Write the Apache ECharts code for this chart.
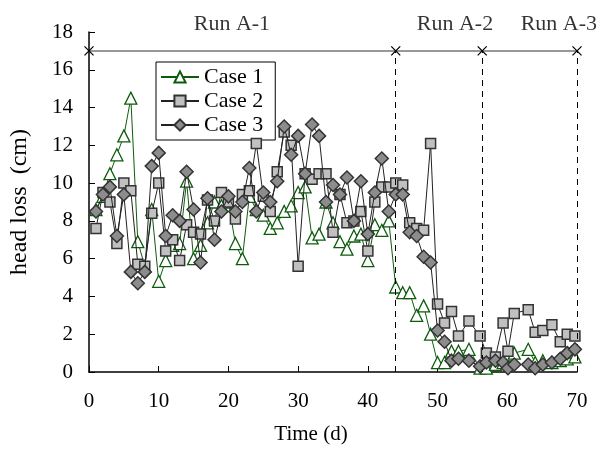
<!DOCTYPE html>
<html>
<head>
<meta charset="utf-8">
<script src="https://cdn.jsdelivr.net/npm/echarts@6/dist/echarts.min.js"></script>
<style>html,body{margin:0;padding:0;background:#fff}#c{width:601px;height:450px}</style>
</head>
<body>
<div id="c"></div>
<script>
// Time (d) of each measurement
const days = [1,2,3,4,5,6,7,8,9,10,11,12,13,14,15,16,17,18,19,20,21,22,23,24,25,26,27,28,29,30,
  31,32,33,34,35,36,37,38,39,40,41,42,43,44,45,46,47,48,49,
  50,51,52,53,54.5,56.1,57,58.3,59.4,60.1,61,63,64,65.1,66.4,67.6,68.6,69.7];
// head loss (cm)
const case1 = [8.6,9.3,10.5,11.5,12.5,14.5,6.9,5.6,8.6,4.8,5.9,6.7,6.8,10.1,6.0,6.7,7.9,9.0,8.8,9.0,
  6.8,6.0,9.3,8.6,8.3,7.6,7.9,8.5,8.8,9.5,9.8,7.1,7.3,9.0,7.9,6.9,6.5,7.2,7.3,5.9,
  7.8,7.5,8.0,4.5,4.2,4.2,3.0,3.5,2.0,
  0.5,0.5,1.1,1.1,1.2,0.2,0.2,0.4,0.5,0.9,1.0,1.2,0.5,0.6,0.5,0.6,0.7,0.8];
const case2 = [7.6,9.5,9.0,6.8,10.0,9.6,5.7,5.6,8.4,10.0,6.4,7.0,5.9,7.8,7.4,7.3,9.1,8.0,9.5,9.0,
  8.1,9.4,9.6,12.1,9.3,8.5,10.6,12.7,12.0,5.6,10.5,10.2,10.5,10.5,7.4,9.4,7.9,8.0,8.5,6.4,
  9.0,9.8,9.8,10.0,9.9,7.9,7.6,7.5,12.1,
  3.6,2.6,3.2,1.9,2.7,1.9,1.0,0.8,2.6,1.1,3.1,3.3,2.1,2.2,2.5,1.6,2.0,1.9];
const case3 = [8.5,9.4,9.8,7.2,9.4,5.3,4.7,5.3,10.9,11.6,7.2,8.3,8.0,10.6,8.6,5.8,9.2,7.0,8.5,9.3,
  8.5,9.0,10.8,8.5,9.5,9.0,10.1,13.0,11.5,12.5,10.5,13.1,12.5,9.0,9.9,9.4,10.3,8.0,10.1,7.3,
  9.5,11.3,8.5,9.4,9.4,7.4,7.2,6.1,5.8,
  2.2,1.6,0.6,0.7,0.6,0.3,0.5,0.6,0.5,0.2,0.4,0.4,0.2,0.4,0.5,0.7,1.0,1.2];
const seriesNames = ['Case 1','Case 2','Case 3'];
// run boundaries (d) and level of the run bar (cm)
const runBounds = [0, 44, 56.4, 70];
const runLevel = 17;
const runNames = ['Run A-1','Run A-2','Run A-3'];
const runLabelDays = [20.5, 52.5, 67.4];
const runLabelLevel = 18.4;
const xTicks = [0,10,20,30,40,50,60,70];
const yTicks = [0,2,4,6,8,10,12,14,16,18];

const FONT = '"Liberation Serif", "Times New Roman", serif';
const chart = echarts.init(document.getElementById('c'), null, {renderer:'canvas'});

function pairs(vals){ return days.map((d,i)=>[d, vals[i]]); }

chart.setOption({
  animation: false,
  backgroundColor: '#fff',
  textStyle: {fontFamily: FONT, color: '#000'},
  grid: {left: 89, right: 24, top: 32, bottom: 76},
  legend: {
    data: seriesNames,
    orient: 'vertical',
    left: 156, top: 62,
    itemWidth: 38, itemHeight: 14, itemGap: 2,
    padding: [4, 12, 4, 4],
    borderColor: '#000', borderWidth: 1, backgroundColor: '#fff',
    textStyle: {fontFamily: FONT, fontSize: 22, color: '#000', lineHeight: 21}
  },
  xAxis: {
    type: 'value', min: xTicks[0], max: xTicks[xTicks.length-1], interval: 10,
    name: 'Time (d)', nameLocation: 'middle', nameGap: 52,
    nameTextStyle: {fontFamily: FONT, fontSize: 21, color: '#000', padding: [0, 44, 0, 0]},
    axisLine: {lineStyle: {color: '#000', width: 1.5}},
    axisTick: {inside: true, length: 6, lineStyle: {color: '#000'}},
    axisLabel: {fontFamily: FONT, fontSize: 21, color: '#000', margin: 19},
    splitLine: {show: false}
  },
  yAxis: {
    type: 'value', min: yTicks[0], max: yTicks[yTicks.length-1], interval: 2,
    name: 'head loss  (cm)', nameLocation: 'middle', nameGap: 57, nameRotate: 90,
    nameTextStyle: {fontFamily: FONT, fontSize: 24, color: '#000'},
    axisLine: {show: true, lineStyle: {color: '#000', width: 1.5}},
    axisTick: {show: true, inside: true, length: 6, lineStyle: {color: '#000'}},
    axisLabel: {fontFamily: FONT, fontSize: 21, color: '#000', margin: 16},
    splitLine: {show: false}
  },
  series: [
    {
      name: 'runbar', type: 'line', silent: true, z: 1,
      data: runBounds.map(d => [d, runLevel]),
      symbol: 'path://M0,0L10,10M10,0L0,10', symbolSize: 9,
      itemStyle: {color: 'rgba(0,0,0,0)', borderColor: '#000', borderWidth: 1.3},
      lineStyle: {color: '#777', width: 1.5},
      markLine: {
        silent: true, symbol: 'none', label: {show: false},
        lineStyle: {color: '#000', type: [6, 5], width: 1},
        data: runBounds.slice(1).map(d => [{coord: [d, 0]}, {coord: [d, runLevel]}])
      }
    },
    {
      name: 'runlabels', type: 'scatter', silent: true, clip: false,
      symbolSize: 0,
      data: runNames.map((n,i) => ({value: [runLabelDays[i], runLabelLevel], name: n})),
      label: {show: true, position: 'inside', formatter: p => p.name,
        fontFamily: FONT, fontSize: 22, color: '#000'}
    },
    {
      name: seriesNames[0], type: 'line', z: 3,
      data: pairs(case1),
      symbol: 'triangle', symbolSize: 12,
      lineStyle: {color: '#0d5c0d', width: 1},
      itemStyle: {color: '#fff', borderColor: '#0d5c0d', borderWidth: 1.3}
    },
    {
      name: seriesNames[1], type: 'line', z: 4,
      data: pairs(case2),
      symbol: 'rect', symbolSize: 10,
      lineStyle: {color: '#222', width: 1},
      itemStyle: {color: '#c0c0c0', borderColor: '#333', borderWidth: 1.5}
    },
    {
      name: seriesNames[2], type: 'line', z: 5,
      data: pairs(case3),
      symbol: 'diamond', symbolSize: 13,
      lineStyle: {color: '#222', width: 1},
      itemStyle: {color: '#8c8c8c', borderColor: '#333', borderWidth: 1.5}
    }
  ]
});
</script>
</body>
</html>
